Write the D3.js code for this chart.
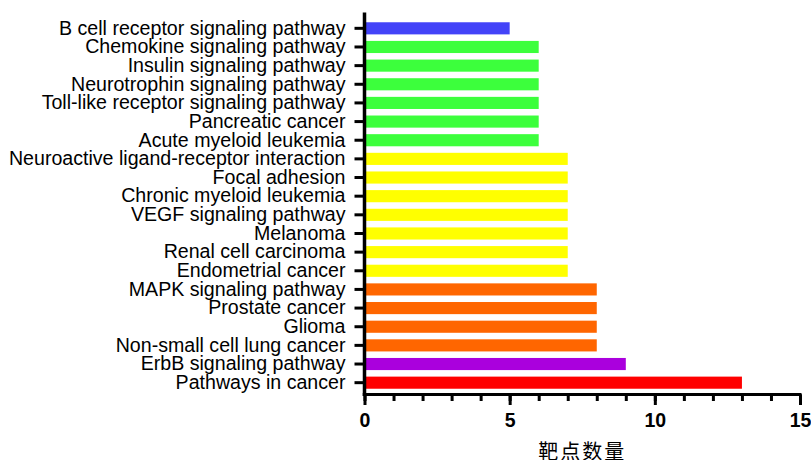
<!DOCTYPE html>
<html>
<head>
<meta charset="utf-8">
<script src="https://cdn.jsdelivr.net/npm/d3@7"></script>
<style>
  body { margin: 0; background: #fff; }
  svg { display: block; }
</style>
</head>
<body>
<svg id="chart" width="811" height="460"></svg>
<script>
// pathways, top to bottom
var pathways = [
    "B cell receptor signaling pathway",
    "Chemokine signaling pathway",
    "Insulin signaling pathway",
    "Neurotrophin signaling pathway",
    "Toll-like receptor signaling pathway",
    "Pancreatic cancer",
    "Acute myeloid leukemia",
    "Neuroactive ligand-receptor interaction",
    "Focal adhesion",
    "Chronic myeloid leukemia",
    "VEGF signaling pathway",
    "Melanoma",
    "Renal cell carcinoma",
    "Endometrial cancer",
    "MAPK signaling pathway",
    "Prostate cancer",
    "Glioma",
    "Non-small cell lung cancer",
    "ErbB signaling pathway",
    "Pathways in cancer"
];
var targetCounts = [5, 6, 6, 6, 6, 6, 6, 7, 7, 7, 7, 7, 7, 7, 8, 8, 8, 8, 9, 13];
var xTicks = [0, 5, 10, 15];
var xTitle = "靶点数量";

var svg = d3.select('#chart');
var plotLeft = 364.5, plotRight = 800, plotTop = 19, plotBottom = 392, axisY = 394.5;

var xScale = d3.scaleLinear().domain([0, 15]).range([plotLeft, plotRight]);
var yScale = d3.scaleBand().domain(pathways).range([plotTop, plotBottom])
    .paddingInner(0.35).paddingOuter(0.175);
var colorScale = d3.scaleOrdinal().domain([5, 6, 7, 8, 9, 13])
    .range(["#4343f8", "#3cff3c", "#ffff00", "#ff6600", "#aa00dd", "#ff0000"]);

var data = pathways.map(function(p, i) { return {name: p, value: targetCounts[i]}; });

svg.append('g').attr('class', 'bars').selectAll('rect').data(data)
    .enter().append('rect')
    .attr('x', xScale(0))
    .attr('y', function(d) { return yScale(d.name); })
    .attr('width', function(d) { return xScale(d.value) - xScale(0); })
    .attr('height', yScale.bandwidth())
    .style('fill', function(d) { return colorScale(d.value); });

// y axis
var yAxis = d3.axisLeft(yScale).tickSize(10).tickSizeOuter(0).tickPadding(9);
var gy = svg.append('g').attr('transform', 'translate(' + plotLeft + ',0)').call(yAxis);
gy.select('.domain').remove();
gy.selectAll('.tick line').attr('stroke', '#000').attr('stroke-width', 3);
gy.selectAll('.tick text').attr('fill', '#000')
    .style('font-family', 'Liberation Sans, Arial, sans-serif').style('font-size', '19.6px');

// x axis, minor ticks first
var minor = d3.axisBottom(xScale).tickValues(d3.range(0, 16)).tickSize(6.5).tickSizeOuter(0).tickFormat('');
var gxm = svg.append('g').attr('transform', 'translate(0,' + axisY + ')').call(minor);
gxm.select('.domain').remove();
gxm.selectAll('.tick line').attr('stroke', '#000').attr('stroke-width', 3);

var xAxis = d3.axisBottom(xScale).tickValues(xTicks).tickSize(10.5).tickSizeOuter(0).tickPadding(8);
var gx = svg.append('g').attr('transform', 'translate(0,' + axisY + ')').call(xAxis);
gx.select('.domain').remove();
gx.selectAll('.tick line').attr('stroke', '#000').attr('stroke-width', 3);
gx.selectAll('.tick text').attr('fill', '#000')
    .style('font-family', 'Liberation Sans, Arial, sans-serif').style('font-size', '19.5px').style('font-weight', 'bold');

// axis lines
svg.append('line').attr('x1', plotLeft).attr('x2', plotLeft).attr('y1', 12.5).attr('y2', axisY + 1.5)
    .attr('stroke', '#000').attr('stroke-width', 3.5);
svg.append('line').attr('x1', plotLeft - 1.75).attr('x2', plotRight + 1.5).attr('y1', axisY).attr('y2', axisY)
    .attr('stroke', '#000').attr('stroke-width', 3);

svg.append('text')
    .attr('x', (plotLeft + plotRight) / 2)
    .attr('y', 459)
    .attr('text-anchor', 'middle')
    .style('font-family', 'Noto Sans CJK SC, sans-serif')
    .style('font-size', '20px')
    .style('letter-spacing', '2px')
    .text(xTitle);
</script>
</body>
</html>
